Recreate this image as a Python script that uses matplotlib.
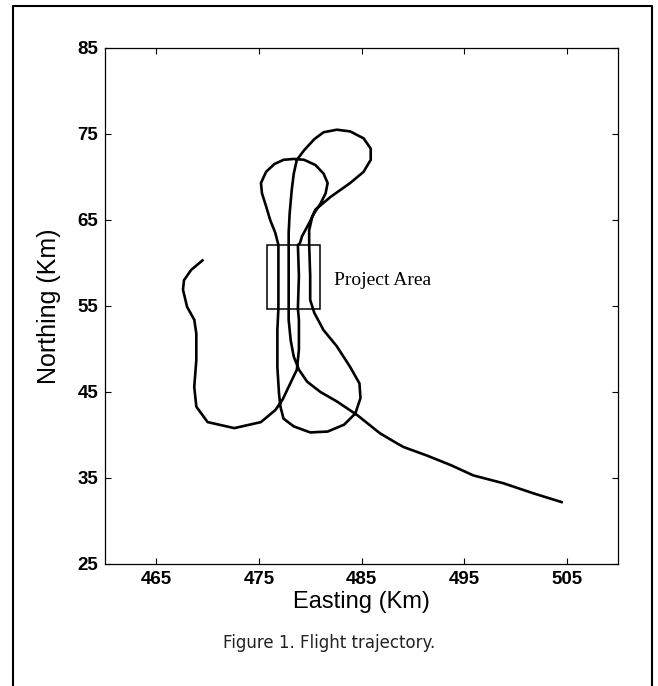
import matplotlib
matplotlib.use("Agg")
import matplotlib.pyplot as plt
from matplotlib.lines import Line2D
from matplotlib.patches import Rectangle

# ---- data (km) ----
easting = [469.5, 468.4, 467.7, 467.6, 468.0, 468.7, 468.9, 468.9, 468.7, 468.9, 470.0, 472.6,
           475.2, 476.6, 477.3, 478.7, 478.9, 478.9, 478.8, 478.9, 478.8, 479.0,
           479.2, 479.7, 480.4, 481.0, 481.5, 481.7, 481.3, 480.5, 479.4, 478.4, 477.4,
           476.5, 475.7, 475.2, 475.3, 475.7, 476.1, 476.6, 476.9,
           476.9, 476.9, 476.8, 476.8, 476.8, 476.96, 477.1,
           477.4, 478.4, 480.0, 481.7, 483.3, 484.4, 484.9, 484.8, 483.9, 482.6, 481.3, 480.4, 480.0,
           480.0, 479.9, 479.9, 480.2, 480.5,
           482.0, 483.9, 485.2, 485.9, 485.9, 485.2, 483.9, 482.6, 481.3, 480.4, 479.4, 478.7,
           478.4, 478.2, 478.0, 477.9, 477.9,
           477.9, 477.9, 477.9, 478.1, 478.4, 478.9, 479.7, 481.0, 482.6, 484.6, 486.8, 488.5,
           489.1, 491.4, 493.7, 495.9, 498.8, 501.8, 504.5]
northing = [60.3, 59.2, 58.0, 56.9, 54.9, 53.4, 51.8, 48.7, 45.6, 43.3, 41.5, 40.8,
            41.5, 42.9, 44.1, 47.6, 49.9, 53.4, 54.7, 58.5, 62.1, 62.3,
            63.1, 64.2, 65.8, 66.9, 68.1, 69.3, 70.4, 71.4, 72.0, 72.1, 72.0,
            71.5, 70.6, 69.3, 68.1, 66.6, 65.0, 63.5, 62.1,
            58.5, 54.7, 52.2, 50.0, 47.9, 44.8, 43.3,
            41.9, 41.0, 40.3, 40.4, 41.2, 42.5, 44.3, 46.0, 47.9, 50.3, 52.2, 54.2, 55.7,
            58.5, 62.1, 63.8, 65.4, 66.2,
            67.7, 69.3, 70.6, 72.0, 73.3, 74.5, 75.3, 75.5, 75.2, 74.4, 73.1, 72.0,
            70.4, 68.5, 65.8, 63.5, 62.1,
            58.5, 55.7, 53.4, 51.0, 49.1, 47.6, 46.2, 45.0, 43.9, 42.3, 40.2, 39.0,
            38.6, 37.6, 36.5, 35.3, 34.4, 33.2, 32.2]

area_east = [475.8, 481.0]
area_north = [54.7, 62.1]
area_label = "Project Area"

x_ticks = [465, 475, 485, 495, 505]
y_ticks = [25, 35, 45, 55, 65, 75, 85]
x_lim = (460, 510)
y_lim = (25, 85)

W, H = 658, 686
fig = plt.figure(figsize=(W / 100, H / 100), dpi=100)
fig.patch.set_facecolor("white")

ax = fig.add_axes([105 / W, 1 - 564 / H, 513 / W, 516 / H])
ax.plot(easting, northing, color="black", lw=1.9, solid_joinstyle="round")
ax.add_patch(Rectangle((area_east[0], area_north[0]), area_east[1] - area_east[0],
                       area_north[1] - area_north[0], fill=False, ec="black", lw=1.1))
ax.text(482.3, 58.0, area_label, family="Liberation Serif", fontsize=14, va="center", ha="left")

ax.set_xlim(*x_lim)
ax.set_ylim(*y_lim)
ax.set_xticks(x_ticks)
ax.set_yticks(y_ticks)
tick_font = ["Liberation Sans Narrow", "Liberation Sans"]
ax.tick_params(direction="in", length=4, width=0.8, top=True, right=True, pad=5)
for lab in ax.get_xticklabels() + ax.get_yticklabels():
    lab.set_family(tick_font)
    lab.set_fontsize(13.5)
    lab.set_fontweight("bold")
for s in ax.spines.values():
    s.set_linewidth(0.9)

ax.set_xlabel("Easting (Km)", family=tick_font, fontsize=17, labelpad=2)
ax.set_ylabel("Northing (Km)", family=tick_font, fontsize=18, labelpad=12)

fig.text(0.5, 1 - 643 / H, "Figure 1. Flight trajectory.", family="DejaVu Sans",
         fontsize=12, color="#222222", ha="center", va="center")

# outer frame (open at the bottom)
fig.add_artist(Line2D([13 / W, 13 / W, 652 / W, 652 / W], [0, 1 - 6 / H, 1 - 6 / H, 0],
                      transform=fig.transFigure, color="black", lw=1.5))

fig.savefig("out.png", dpi=100)
